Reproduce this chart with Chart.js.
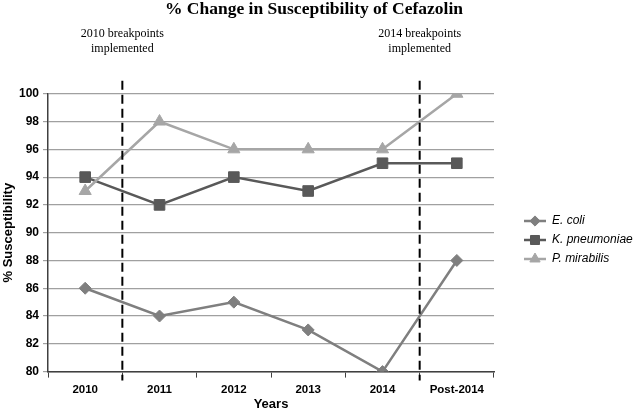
<!DOCTYPE html>
<html>
<head>
<meta charset="utf-8">
<script src="https://cdn.jsdelivr.net/npm/chart.js@4.4.1/dist/chart.umd.min.js"></script>
<style>
  html, body { margin: 0; padding: 0; background: #ffffff; }
  #wrap { width: 638px; height: 412px; position: relative; }
</style>
</head>
<body>
<div id="wrap"><canvas id="c" width="638" height="412"></canvas></div>
<script>
const categories = ['2010', '2011', '2012', '2013', '2014', 'Post-2014'];
const eColi = [86, 84, 85, 83, 80, 88];
const kPneumoniae = [94, 92, 94, 93, 95, 95];
const pMirabilis = [93, 98, 96, 96, 96, 100];
const seriesNames = ['E. coli', 'K. pneumoniae', 'P. mirabilis'];
const yTicks = [80, 82, 84, 86, 88, 90, 92, 94, 96, 98, 100];
const breakpoints = [
  { after: 0, lines: ['2010 breakpoints', 'implemented'] },
  { after: 4, lines: ['2014 breakpoints', 'implemented'] }
];

const colors = ['#7f7f7f', '#595959', '#a6a6a6'];
const styles = ['rectRot', 'rect', 'triangle'];
const radii = [6, 7.5, 7];

const overlay = {
  id: 'overlay',
  afterDatasetsDraw(chart) {
    const { ctx, chartArea, scales } = chart;
    const xs = scales.x;
    ctx.save();
    breakpoints.forEach(bp => {
      const x = (xs.getPixelForValue(bp.after) + xs.getPixelForValue(bp.after + 1)) / 2;
      ctx.strokeStyle = '#000000';
      ctx.lineWidth = 2;
      ctx.setLineDash([9, 5]);
      ctx.beginPath();
      ctx.moveTo(x, chartArea.top - 13);
      ctx.lineTo(x, chartArea.bottom + 9);
      ctx.stroke();
      ctx.setLineDash([]);
      ctx.fillStyle = '#000000';
      ctx.font = '12px "Liberation Serif", serif';
      ctx.textAlign = 'center';
      ctx.textBaseline = 'middle';
      ctx.fillText(bp.lines[0], x, chartArea.top - 60);
      ctx.fillText(bp.lines[1], x, chartArea.top - 45);
    });
    // legend
    const lx = 524, ly = [221, 240, 259];
    seriesNames.forEach((name, i) => {
      ctx.strokeStyle = colors[i];
      ctx.lineWidth = 2.5;
      ctx.beginPath();
      ctx.moveTo(lx, ly[i]);
      ctx.lineTo(lx + 22, ly[i]);
      ctx.stroke();
      ctx.fillStyle = colors[i];
      ctx.strokeStyle = colors[i];
      ctx.lineWidth = 1;
      Chart.helpers.drawPoint(ctx, { pointStyle: styles[i], radius: radii[i] * 0.85, rotation: 0, borderWidth: 1 }, lx + 11, ly[i]);
      ctx.fillStyle = '#000000';
      ctx.font = 'italic 12px "Liberation Sans", sans-serif';
      ctx.textAlign = 'left';
      ctx.textBaseline = 'middle';
      ctx.fillText(name, lx + 28, ly[i]);
    });
    ctx.restore();
  }
};

const seriesData = [eColi, kPneumoniae, pMirabilis];
new Chart(document.getElementById('c'), {
  type: 'line',
  data: {
    labels: categories,
    datasets: seriesNames.map((name, i) => ({
      label: name,
      data: seriesData[i],
      borderColor: colors[i],
      backgroundColor: colors[i],
      borderWidth: 2.5,
      pointStyle: styles[i],
      pointRadius: radii[i],
      pointBorderWidth: 1,
      pointBorderColor: colors[i],
      pointBackgroundColor: colors[i],
      tension: 0,
      order: 2 - i
    }))
  },
  options: {
    responsive: false,
    animation: false,
    layout: { padding: { left: 2, right: 12, top: 0, bottom: 0 } },
    plugins: {
      legend: { display: false },
      tooltip: { enabled: false },
      title: {
        display: true,
        text: '% Change in Susceptibility of Cefazolin',
        color: '#000000',
        font: { family: '"Liberation Serif", serif', size: 17.5, weight: 'bold', lineHeight: 1.1 },
        padding: { top: 0, bottom: 74.5 }
      }
    },
    scales: {
      x: {
        type: 'category',
        offset: true,
        grid: { display: true, drawOnChartArea: false, drawTicks: true, tickLength: 6, offset: true, color: '#404040' },
        border: { display: true, color: '#404040', width: 1.5 },
        ticks: { color: '#000000', font: { family: '"Liberation Sans", sans-serif', size: 11.5, weight: 'bold' }, padding: 5 },
        title: { display: true, text: 'Years', color: '#000000', font: { family: '"Liberation Sans", sans-serif', size: 13, weight: 'bold' }, padding: { top: -5, bottom: 0 } }
      },
      y: {
        min: 80,
        max: 100,
        afterBuildTicks: (s) => { s.ticks = yTicks.map(v => ({ value: v })); },
        grid: { color: '#a0a0a0', lineWidth: 1.2, drawTicks: true, tickLength: 5 },
        border: { display: true, color: '#404040', width: 1.5 },
        ticks: { color: '#000000', font: { family: '"Liberation Sans", sans-serif', size: 12, weight: 'bold' }, padding: 4 },
        title: { display: true, text: '% Susceptibility', color: '#000000', font: { family: '"Liberation Sans", sans-serif', size: 13, weight: 'bold', lineHeight: 1 }, padding: { top: 0, bottom: 0 } }
      },
      legendSpace: {
        type: 'linear',
        position: 'right',
        min: 80,
        max: 100,
        grid: { display: false, drawOnChartArea: false },
        border: { display: false },
        ticks: { display: false },
        afterFit: (s) => { s.width = 132; }
      }
    }
  },
  plugins: [overlay]
});
</script>
</body>
</html>
